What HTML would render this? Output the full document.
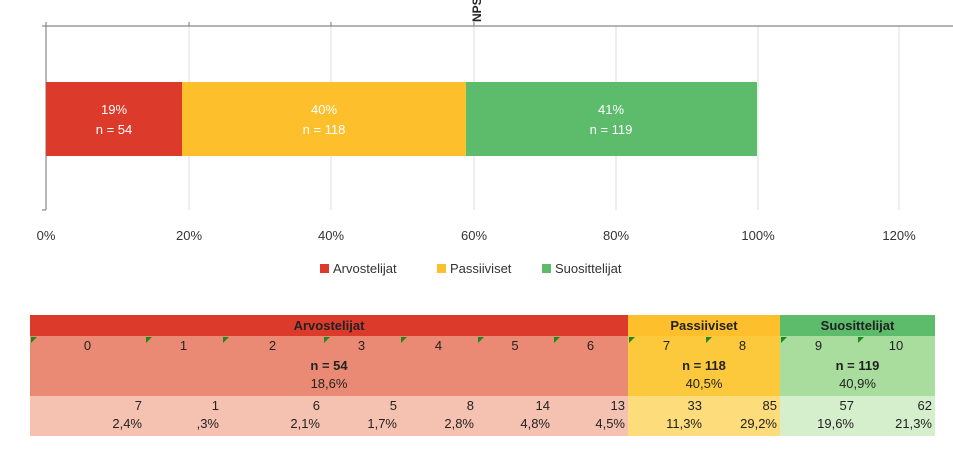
<!DOCTYPE html>
<html><head><meta charset="utf-8"><style>
body{margin:0;width:953px;height:465px;background:#fff;font-family:"Liberation Sans",Arial,sans-serif;position:relative;overflow:hidden}
.a{position:absolute}
.c{position:absolute;font-size:13px;color:#222;line-height:20px}
.tri{position:absolute;width:0;height:0;border-top:6px solid #1a8a1a;border-right:6px solid transparent}
</style></head><body>
<svg class="a" style="left:0;top:0" width="953" height="300">
<g stroke="#ddd" stroke-width="1">
<line x1="189" y1="26" x2="189" y2="210"/><line x1="331" y1="26" x2="331" y2="210"/><line x1="474" y1="26" x2="474" y2="210"/><line x1="616" y1="26" x2="616" y2="210"/><line x1="758" y1="26" x2="758" y2="210"/><line x1="899" y1="26" x2="899" y2="210"/>
</g>
<g stroke="#888" stroke-width="1.2">
<line x1="46" y1="26" x2="953" y2="26"/><line x1="46" y1="22" x2="46" y2="210"/><line x1="42" y1="26" x2="46" y2="26"/><line x1="42" y1="210" x2="46" y2="210"/>
<line x1="189" y1="22" x2="189" y2="26"/><line x1="331" y1="22" x2="331" y2="26"/><line x1="474" y1="22" x2="474" y2="26"/>
</g>
<rect x="46" y="82" width="136" height="74" fill="#dc3b2c"/>
<rect x="182" y="82" width="284" height="74" fill="#fdc02c"/>
<rect x="466" y="82" width="291" height="74" fill="#5cbc6c"/>
<g fill="#fff" font-size="13" text-anchor="middle" font-family="Liberation Sans,Arial,sans-serif">
<text x="114" y="114">19%</text><text x="114" y="134">n = 54</text>
<text x="324" y="114">40%</text><text x="324" y="134">n = 118</text>
<text x="611" y="114">41%</text><text x="611" y="134">n = 119</text>
</g>
<text x="0" y="0" transform="translate(481,22) rotate(-90)" font-size="12" font-weight="bold" fill="#222" font-family="Liberation Sans,Arial,sans-serif">NPS</text>
<g fill="#333" font-size="13" text-anchor="middle" font-family="Liberation Sans,Arial,sans-serif">
<text x="46" y="240">0%</text><text x="189" y="240">20%</text><text x="331" y="240">40%</text><text x="474" y="240">60%</text><text x="616" y="240">80%</text><text x="758" y="240">100%</text><text x="899" y="240">120%</text>
</g>
<rect x="320" y="264" width="9" height="9" fill="#dc3b2c"/><text x="333" y="273" font-size="13" fill="#333" font-family="Liberation Sans,Arial,sans-serif">Arvostelijat</text>
<rect x="437" y="264" width="9" height="9" fill="#fdc02c"/><text x="450" y="273" font-size="13" fill="#333" font-family="Liberation Sans,Arial,sans-serif">Passiiviset</text>
<rect x="542" y="264" width="9" height="9" fill="#5cbc6c"/><text x="555" y="273" font-size="13" fill="#333" font-family="Liberation Sans,Arial,sans-serif">Suosittelijat</text>
</svg>

<div class="a" style="left:30px;top:315px;width:598px;height:21px;background:#dc3b2c"></div>
<div class="a" style="left:628px;top:315px;width:152px;height:21px;background:#fdc02c"></div>
<div class="a" style="left:780px;top:315px;width:155px;height:21px;background:#5cbc6c"></div>
<div class="a" style="left:30px;top:336px;width:598px;height:60px;background:#eb8a74"></div>
<div class="a" style="left:628px;top:336px;width:152px;height:60px;background:#fcc93c"></div>
<div class="a" style="left:780px;top:336px;width:155px;height:60px;background:#a9dd9d"></div>
<div class="a" style="left:30px;top:396px;width:598px;height:40px;background:#f5c1b1"></div>
<div class="a" style="left:628px;top:396px;width:152px;height:40px;background:#fddc7c"></div>
<div class="a" style="left:780px;top:396px;width:155px;height:40px;background:#d5efcd"></div>

<div class="c" style="left:30px;top:315px;width:598px;text-align:center;font-weight:bold;line-height:22px">Arvostelijat</div>
<div class="c" style="left:628px;top:315px;width:152px;text-align:center;font-weight:bold;line-height:22px">Passiiviset</div>
<div class="c" style="left:780px;top:315px;width:155px;text-align:center;font-weight:bold;line-height:22px">Suosittelijat</div>

<div class="c" style="left:30px;top:356px;width:598px;text-align:center;font-weight:bold">n = 54</div>
<div class="c" style="left:30px;top:374px;width:598px;text-align:center">18,6%</div>
<div class="c" style="left:628px;top:356px;width:152px;text-align:center;font-weight:bold">n = 118</div>
<div class="c" style="left:628px;top:374px;width:152px;text-align:center">40,5%</div>
<div class="c" style="left:780px;top:356px;width:155px;text-align:center;font-weight:bold">n = 119</div>
<div class="c" style="left:780px;top:374px;width:155px;text-align:center">40,9%</div>

<div id="cols"></div>
<script>
var e=[30,145,222,323,400,477,553,628,705,780,857,935];
var cnt=[7,1,6,5,8,14,13,33,85,57,62];
var pc=["2,4%",",3%","2,1%","1,7%","2,8%","4,8%","4,5%","11,3%","29,2%","19,6%","21,3%"];
var h="";
for(var i=0;i<11;i++){var l=e[i],w=e[i+1]-e[i];
h+='<div class="tri" style="left:'+(l+1)+'px;top:337px"></div>';
h+='<div class="c" style="left:'+l+'px;top:336px;width:'+w+'px;text-align:center">'+i+'</div>';
h+='<div class="c" style="left:'+l+'px;top:396px;width:'+(w-3)+'px;text-align:right">'+cnt[i]+'</div>';
h+='<div class="c" style="left:'+l+'px;top:414px;width:'+(w-3)+'px;text-align:right">'+pc[i]+'</div>';}
document.getElementById("cols").innerHTML=h;
</script>
</body></html>
